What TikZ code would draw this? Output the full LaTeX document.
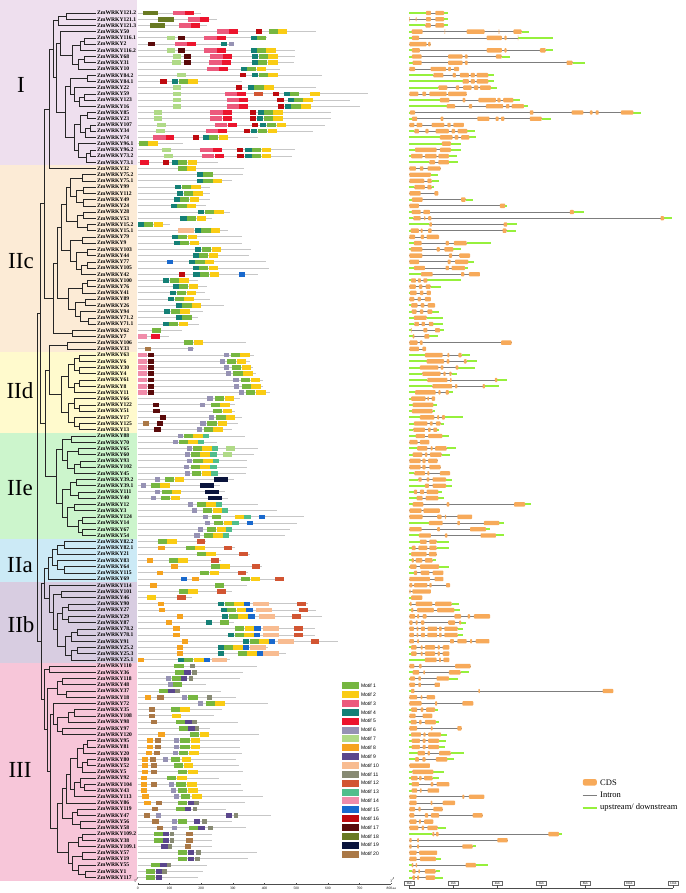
\documentclass[tikz,border=0pt]{standalone}
\usepackage{fontspec}
\setmainfont{Liberation Serif}
\newfontfamily\keyfont{Liberation Sans}
\usepackage{tikz}
\usetikzlibrary{calc,positioning}

% group bands
\definecolor{bandI}{RGB}{238,223,238}
\definecolor{bandIIc}{RGB}{252,235,214}
\definecolor{bandIId}{RGB}{255,250,205}
\definecolor{bandIIe}{RGB}{204,245,204}
\definecolor{bandIIa}{RGB}{204,234,246}
\definecolor{bandIIb}{RGB}{216,205,225}
\definecolor{bandIII}{RGB}{247,198,217}
% motifs
\definecolor{motif1}{RGB}{118,182,64}
\definecolor{motif2}{RGB}{250,204,20}
\definecolor{motif3}{RGB}{236,90,125}
\definecolor{motif4}{RGB}{20,128,118}
\definecolor{motif5}{RGB}{236,20,45}
\definecolor{motif6}{RGB}{150,146,180}
\definecolor{motif7}{RGB}{176,218,135}
\definecolor{motif8}{RGB}{246,163,30}
\definecolor{motif9}{RGB}{90,70,140}
\definecolor{motif10}{RGB}{248,188,145}
\definecolor{motif11}{RGB}{135,138,115}
\definecolor{motif12}{RGB}{210,85,50}
\definecolor{motif13}{RGB}{80,190,140}
\definecolor{motif14}{RGB}{240,140,170}
\definecolor{motif15}{RGB}{25,105,205}
\definecolor{motif16}{RGB}{190,10,15}
\definecolor{motif17}{RGB}{90,10,10}
\definecolor{motif18}{RGB}{105,122,35}
\definecolor{motif19}{RGB}{10,20,60}
\definecolor{motif20}{RGB}{170,120,70}
% gene structure
\definecolor{cdsorange}{RGB}{247,170,90}
\definecolor{utrgreen}{RGB}{150,240,60}
\definecolor{introngray}{RGB}{125,125,125}

\def\motifwidths{{29,30,39,19,28,16,28,20,20,50,14,27,20,28,20,20,20,48,45,20}}
\pgfmathdeclarefunction{rowy}{1}{\pgfmathparse{13+(#1-1)*6.22}}

% internal node of the tree: name, x, two children
\newcommand\clade[4]{%
  \path let \p1=($(#3)!0.5!(#4)$) in coordinate (#1) at (#2pt,\y1);
  \draw[branch] (#1) |- (#3) (#1) |- (#4);
}
% protein row: row, length (aa), motif/start list
\newcommand\mrow[3]{%
  \draw[mline] (137.7,{rowy(#1)}) -- ({137.7+0.317*#2},{rowy(#1)});
  \foreach \m/\s in {#3}{%
    \pgfmathsetmacro\mw{\motifwidths[\m-1]}%
    \fill[fill=motif\m] ({137.7+0.317*\s},{rowy(#1)-2.3}) rectangle ++({0.317*\mw},4.6);}%
}
% gene row: row, end (kb), exon list (kb)
\newcommand\gene[3]{%
  \gdef\gfirst{-1}%
  \foreach \a/\b in {#3}{\ifdim\gfirst pt<0pt \xdef\gfirst{\a}\fi\xdef\glast{\b}}%
  \draw[utr] (409.3,{rowy(#1)}) -- ({409.3+22*\gfirst},{rowy(#1)});
  \draw[intron] ({409.3+22*\gfirst},{rowy(#1)}) -- ({409.3+22*\glast},{rowy(#1)});
  \draw[utr] ({409.3+22*\glast},{rowy(#1)}) -- ({409.3+22*#2},{rowy(#1)});
  \foreach \a/\b in {#3}{\fill[cds] ({409.3+22*\a},{rowy(#1)-2.2}) rectangle ({409.3+22*\b},{rowy(#1)+2.2});}%
}

\begin{document}
\begin{tikzpicture}[x=1pt,y=-1pt,
  branch/.style={draw=black!85, line width=0.55pt},
  gname/.style={anchor=west, inner sep=0pt, font=\bfseries\fontsize{5.6}{6}\selectfont},
  grouplab/.style={inner sep=0pt, font=\fontsize{23}{23}\selectfont},
  mline/.style={draw=black!22, line width=0.9pt},
  utr/.style={draw=utrgreen, line width=2pt},
  intron/.style={draw=introngray, line width=0.7pt},
  cds/.style={fill=cdsorange, rounded corners=0.8pt},
  keybox/.style={minimum width=17pt, minimum height=7pt, inner sep=0pt},
  keytext/.style={inner sep=0pt, font=\keyfont\fontsize{5}{5}\selectfont},
  glegend/.style={anchor=west, inner sep=0pt, font=\fontsize{8.5}{9}\selectfont},
  ticklab/.style={inner sep=0pt, font=\fontsize{3.6}{4}\selectfont},
  kbbox/.style={draw=black!60, line width=0.3pt, inner sep=0.6pt, minimum width=10pt, minimum height=4.4pt, font=\fontsize{3.2}{3.5}\selectfont}
]
\useasboundingbox (0,0) rectangle (685,893);

% coloured bands of the subfamilies
\fill[bandI]   (0,0)     rectangle (137,165.4);
\fill[bandIIc] (0,165.4) rectangle (137,352);
\fill[bandIId] (0,352)   rectangle (137,432.8);
\fill[bandIIe] (0,432.8) rectangle (137,538.6);
\fill[bandIIa] (0,538.6) rectangle (137,582.3);
\fill[bandIIb] (0,582.3) rectangle (137,663.2);
\fill[bandIII] (0,663.2) rectangle (137,880.7);

\node[grouplab] (labI)   at (21,85)  {I};
\node[grouplab] (labIIc) at (21,261) {IIc};
\node[grouplab] (labIId) at (20,391) {IId};
\node[grouplab] (labIIe) at (20,488) {IIe};
\node[grouplab] (labIIa) at (20,565) {IIa};
\node[grouplab] (labIIb) at (21,625) {IIb};
\node[grouplab] (labIII) at (20,770) {III};

% gene names and leaves
\foreach \r/\g in {1/121.2,2/121.1,3/121.3,4/50,5/116.1,6/2,7/116.2,8/68,9/31,10/10,
  11/84.2,12/84.1,13/22,14/59,15/123,16/16,17/85,18/23,19/107,20/34,21/74,22/96.1,23/96.2,
  24/73.2,25/73.1,26/32,27/75.2,28/75.1,29/99,30/112,31/49,32/24,33/28,34/53,35/15.2,
  36/15.1,37/79,38/9,39/103,40/44,41/77,42/105,43/42,44/100,45/76,46/41,47/89,48/26,
  49/94,50/71.2,51/71.1,52/62,53/7,54/106,55/33,56/63,57/6,58/30,59/4,60/61,61/8,62/11,
  63/66,64/122,65/51,66/17,67/125,68/13,69/88,70/70,71/65,72/60,73/93,74/102,75/45,
  76/39.2,77/39.1,78/111,79/40,80/12,81/3,82/124,83/14,84/67,85/54,86/82.2,87/82.1,
  88/21,89/83,90/64,91/115,92/69,93/114,94/101,95/46,96/90,97/27,98/29,99/87,100/78.2,
  101/78.1,102/91,103/25.2,104/25.3,105/25.1,106/110,107/36,108/118,109/48,110/37,
  111/18,112/72,113/35,114/108,115/98,116/97,117/120,118/95,119/81,120/20,121/80,
  122/52,123/5,124/92,125/104,126/43,127/113,128/86,129/119,130/47,131/56,132/58,
  133/109.2,134/38,135/109.1,136/57,137/19,138/55,139/1,140/117}{
  \coordinate (l\r) at (96,{rowy(\r)});
  \node[gname] (n\r) at (97,{rowy(\r)}) {ZmWRKY\g};
}

% tree, group I
\clade{ia}{66}{l1}{l2}
\clade{ib}{58}{ia}{l3}
\clade{ic}{84}{l5}{l6}
\clade{id}{80}{ic}{l7}
\clade{ie}{84}{l8}{l9}
\clade{ig}{78}{ie}{l10}
\clade{ih}{72}{id}{ig}
\clade{ij}{60}{l4}{ih}
\clade{ik}{87}{l11}{l12}
\clade{il}{84}{l14}{l15}
\clade{im}{79}{il}{l16}
\clade{io}{74}{l13}{im}
\clade{ip}{70}{ik}{io}
\clade{iq}{87}{l17}{l18}
\clade{ir}{90}{l19}{l20}
\clade{it}{85}{ir}{l21}
\clade{iu}{80}{iq}{it}
\clade{iv}{90}{l23}{l24}
\clade{iw}{86}{iv}{l25}
\clade{ix}{78}{l22}{iw}
\clade{iy}{74}{iu}{ix}
\clade{iz}{65}{ip}{iy}
\clade{ja}{56}{ij}{iz}
\clade{jb}{53}{ib}{ja}
\clade{jc}{49}{jb}{l26}
% group IIc
\clade{ca}{82}{l27}{l28}
\clade{cb}{83}{l29}{l30}
\clade{cc}{83}{l31}{l32}
\clade{cd}{76}{cb}{cc}
\clade{ce}{70}{ca}{cd}
\clade{cf}{83}{l33}{l34}
\clade{cg}{87}{l35}{l36}
\clade{ch}{77}{cf}{cg}
\clade{ci}{66}{ce}{ch}
\clade{cj}{82}{l37}{l38}
\clade{ck}{87}{l39}{l40}
\clade{cl}{87}{l41}{l42}
\clade{cm}{81}{cl}{l43}
\clade{cn}{76}{ck}{cm}
\clade{co}{70}{cj}{cn}
\clade{cp}{61}{ci}{co}
\clade{cq}{87}{l44}{l45}
\clade{cr}{82}{cq}{l46}
\clade{cs}{85}{l47}{l48}
\clade{ct}{88}{l50}{l51}
\clade{cu}{80}{l49}{ct}
\clade{cv}{75}{cs}{cu}
\clade{cw}{68}{cr}{cv}
\clade{cx}{57}{cp}{cw}
\clade{cy}{72}{l52}{l53}
\clade{cz}{53}{cx}{cy}
\clade{ko}{44}{jc}{cz}
% group IId
\clade{da}{67}{l54}{l55}
\clade{db}{79}{l56}{l57}
\clade{dc}{79}{l58}{l59}
\clade{dd}{74}{db}{dc}
\clade{de}{79}{l60}{l61}
\clade{df}{74}{de}{l62}
\clade{dg}{68}{dd}{df}
\clade{dh}{79}{l64}{l65}
\clade{di}{74}{l63}{dh}
\clade{dj}{79}{l67}{l68}
\clade{dk}{74}{l66}{dj}
\clade{dl}{68}{di}{dk}
\clade{dm}{61}{dg}{dl}
\clade{dn}{49}{da}{dm}
% group IIe
\clade{ea}{71}{l69}{l70}
\clade{eb}{78}{l71}{l72}
\clade{ec}{80}{l73}{l74}
\clade{ed}{74}{ec}{l75}
\clade{ee}{67}{eb}{ed}
\clade{ef}{62}{ea}{ee}
\clade{eg}{76}{l76}{l77}
\clade{eh}{78}{l78}{l79}
\clade{ei}{70}{eg}{eh}
\clade{ej}{74}{l80}{l81}
\clade{ek}{82}{l82}{l83}
\clade{el}{82}{l84}{l85}
\clade{em}{78}{ek}{el}
\clade{en}{67}{ej}{em}
\clade{eo}{62}{ei}{en}
\clade{ep}{56}{ef}{eo}
\clade{kp}{45}{dn}{ep}
\clade{kq}{40}{ko}{kp}
% group IIa
\clade{aa}{64}{l86}{l87}
\clade{ab}{57}{aa}{l88}
\clade{ac}{64}{l90}{l91}
\clade{ad}{57}{l89}{ac}
\clade{ae}{52}{ab}{ad}
\clade{af}{48}{ae}{l92}
% group IIb
\clade{ba}{61}{l94}{l95}
\clade{bb}{68}{l96}{l97}
\clade{bc}{68}{l98}{l99}
\clade{bd}{62}{bb}{bc}
\clade{be}{77}{l100}{l101}
\clade{bf}{71}{be}{l102}
\clade{bg}{77}{l103}{l104}
\clade{bh}{71}{bg}{l105}
\clade{bi}{65}{bf}{bh}
\clade{bj}{57}{bd}{bi}
\clade{bk}{53}{ba}{bj}
\clade{bl}{49}{l93}{bk}
\clade{kr}{44}{af}{bl}
% group III
\clade{ha}{49}{l106}{l107}
\clade{hb}{62}{l108}{l109}
\clade{hc}{66}{l110}{l111}
\clade{hd}{57}{hb}{hc}
\clade{he}{74}{l113}{l114}
\clade{hf}{68}{he}{l115}
\clade{hg}{62}{l116}{l117}
\clade{hh}{57}{hf}{hg}
\clade{hi}{53}{l112}{hh}
\clade{hj}{87}{l118}{l119}
\clade{hk}{83}{hj}{l120}
\clade{hl}{87}{l121}{l122}
\clade{hm}{82}{hl}{l123}
\clade{hn}{77}{hk}{hm}
\clade{ho}{84}{l125}{l126}
\clade{hp}{80}{l124}{ho}
\clade{hq}{74}{hp}{l127}
\clade{hr}{70}{hn}{hq}
\clade{hs}{66}{hr}{l128}
\clade{ht}{77}{l129}{l130}
\clade{hu}{80}{l131}{l132}
\clade{hv}{72}{ht}{hu}
\clade{hw}{62}{hs}{hv}
\clade{hx}{82}{l133}{l134}
\clade{hy}{78}{hx}{l135}
\clade{hz}{82}{l136}{l137}
\clade{ka}{85}{l139}{l140}
\clade{kb}{78}{l138}{ka}
\clade{kc}{72}{hz}{kb}
\clade{kd}{68}{hy}{kc}
\clade{ke}{57}{hw}{kd}
\clade{kf}{50}{hi}{ke}
\clade{kg}{47}{hd}{kf}
\clade{kh}{44}{ha}{kg}
\clade{ks}{41}{kr}{kh}
\clade{kt}{37}{kq}{ks}

% conserved motifs
\mrow{1}{200}{18/17,3/110,5/149}
\mrow{2}{249}{18/65,3/158,5/196}
\mrow{3}{220}{18/38,3/129,5/169}
\mrow{4}{564}{3/249,5/288,16/372,1/413,2/442}
\mrow{5}{408}{7/91,17/128,3/210,5/249,4/356,1/376}
\mrow{6}{302}{17/34,3/118,5/155,4/263,6/288}
\mrow{7}{496}{7/91,17/128,3/210,5/249,4/356,1/376,2/406}
\mrow{8}{496}{7/110,17/147,3/229,5/268,4/362,1/382,2/412}
\mrow{9}{494}{7/109,17/147,3/226,5/265,4/360,1/380,2/411}
\mrow{10}{448}{3/218,5/257,4/326,1/345,2/375}
\mrow{11}{580}{7/124,16/323,4/362,1/382,2/412}
\mrow{12}{328}{16/71,4/109,1/129,2/160}
\mrow{13}{564}{7/110,16/310,4/349,1/368,2/399}
\mrow{14}{727}{7/110,3/275,5/314,12/368,16/426,4/460,1/480,2/544}
\mrow{15}{669}{7/110,3/281,5/319,16/440,4/473,1/492,2/523}
\mrow{16}{700}{7/110,3/281,5/319,16/441,4/466,1/485,2/516}
\mrow{17}{609}{7/50,3/229,5/268,16/354,4/378,1/398,2/428}
\mrow{18}{609}{7/50,3/228,5/268,16/353,4/377,1/397,2/427}
\mrow{19}{592}{7/62,3/244,5/284,16/360,4/386,1/407,2/438}
\mrow{20}{553}{7/58,3/215,5/254,16/335,4/358,1/379,2/410}
\mrow{21}{378}{3/49,5/88,16/173,4/205,1/225,2/255}
\mrow{22}{142}{1/4,2/34}
\mrow{23}{496}{7/76,3/198,5/238,16/313,4/340,1/360,2/391}
\mrow{24}{487}{7/82,3/203,5/243,16/314,4/340,1/360,2/391}
\mrow{25}{252}{5/8,16/80,4/107,1/127,2/158}
\mrow{26}{336}{1/126,2/155}
\mrow{27}{333}{4/187,1/207}
\mrow{28}{296}{4/187,1/207,2/237}
\mrow{29}{228}{4/118,1/139,2/169}
\mrow{30}{228}{4/124,1/145,2/175}
\mrow{31}{228}{4/113,1/134,2/164}
\mrow{32}{217}{4/105,1/125,2/155}
\mrow{33}{291}{4/191,1/211,2/241}
\mrow{34}{235}{4/135,1/155,2/186}
\mrow{35}{102}{4/0,1/20,2/50}
\mrow{36}{284}{10/128,4/181,1/201,2/231}
\mrow{37}{330}{4/107,1/127,2/158}
\mrow{38}{330}{4/113,1/133,2/164}
\mrow{39}{357}{4/182,1/203,2/233}
\mrow{40}{351}{4/173,1/193,2/224}
\mrow{41}{406}{15/92,4/162,1/182,2/212}
\mrow{42}{413}{4/173,1/193,2/224}
\mrow{43}{380}{16/129,4/176,1/196,2/227,15/319}
\mrow{44}{191}{4/81,1/101,2/131}
\mrow{45}{220}{4/110,1/130,2/161}
\mrow{46}{212}{4/103,1/124,2/154}
\mrow{47}{228}{4/97,1/118,2/147}
\mrow{48}{272}{4/121,1/141,2/170}
\mrow{49}{205}{4/84,1/105,2/134}
\mrow{50}{191}{4/120,1/141}
\mrow{51}{194}{4/79,1/99,2/129}
\mrow{52}{139}{1/45}
\mrow{53}{99}{14/2,5/42}
\mrow{54}{341}{1/147,2/177}
\mrow{55}{179}{20/23,6/158}
\mrow{56}{366}{14/0,17/32,6/271,1/293,2/323}
\mrow{57}{354}{14/0,17/32,6/259,1/282,2/312}
\mrow{58}{364}{14/0,17/32,6/273,1/296,2/328}
\mrow{59}{372}{14/0,17/32,6/279,1/302,2/333}
\mrow{60}{394}{14/0,17/32,6/302,1/325,2/357}
\mrow{61}{396}{14/0,17/32,6/304,1/328,2/358}
\mrow{62}{417}{14/0,17/32,6/319,1/342,2/374}
\mrow{63}{322}{6/220,1/244,2/275}
\mrow{64}{307}{17/47,6/196,1/231,2/260}
\mrow{65}{307}{17/49,1/237,2/268}
\mrow{66}{328}{17/70,6/225,1/248,2/278}
\mrow{67}{315}{20/17,17/61,6/198,1/220,2/252}
\mrow{68}{296}{17/52,6/186,1/208,2/239}
\mrow{69}{338}{6/128,1/146,2/176,13/206}
\mrow{70}{249}{6/112,1/129,2/160,13/190}
\mrow{71}{381}{6/155,1/173,2/204,13/234,7/278}
\mrow{72}{368}{6/149,1/168,2/198,13/229,7/268}
\mrow{73}{345}{6/155,1/176,2/207,13/237}
\mrow{74}{346}{6/146,1/168,2/198,13/229}
\mrow{75}{343}{6/149,1/170,2/202,13/232}
\mrow{76}{305}{6/55,1/86,2/117,19/240}
\mrow{77}{259}{6/10,1/41,2/71,19/195}
\mrow{78}{275}{6/55,1/78,2/108,19/211}
\mrow{79}{286}{6/43,1/74,2/104,19/222}
\mrow{80}{378}{6/158,1/187,2/217,13/247}
\mrow{81}{438}{6/171,1/206,2/236,13/266}
\mrow{82}{525}{6/205,1/233,2/307,13/336,15/382}
\mrow{83}{504}{6/211,1/240,2/271,13/299,15/344}
\mrow{84}{481}{6/189,1/218,2/249,13/278}
\mrow{85}{464}{6/179,1/208,2/238,13/268}
\mrow{86}{217}{1/63,2/93,12/186}
\mrow{87}{307}{8/65,1/151,2/181,12/272}
\mrow{88}{354}{1/187,2/217,12/320}
\mrow{89}{263}{8/29,1/98,2/128,12/230}
\mrow{90}{393}{8/106,1/230,2/260,12/360}
\mrow{91}{349}{8/61,1/196,2/227,12/315}
\mrow{92}{462}{15/137,8/172,1/326,2/356,12/433}
\mrow{93}{345}{8/40,1/244}
\mrow{94}{296}{1/130,2/160,12/251}
\mrow{95}{172}{2/28,12/125}
\mrow{96}{538}{8/64,4/254,1/274,2/305,15/334,10/364,12/503}
\mrow{97}{564}{8/67,4/263,1/282,2/313,15/343,10/373,12/509}
\mrow{98}{580}{8/123,4/267,1/287,2/317,15/349,10/383,12/487}
\mrow{99}{305}{8/88,4/214,1/260}
\mrow{100}{559}{8/112,1/307,2/338,15/368,10/396,12/494}
\mrow{101}{559}{8/112,4/286,1/306,2/336,15/366,10/395,12/494}
\mrow{102}{632}{8/139,4/333,1/354,2/384,15/414,10/443,12/546}
\mrow{103}{410}{8/124,4/252,1/272,2/302,15/332,10/354}
\mrow{104}{469}{8/124,4/252,1/315,2/345,15/376,10/396}
\mrow{105}{291}{8/0,4/128,1/147,2/179,15/208,10/233}
\mrow{106}{375}{1/116,11/166}
\mrow{107}{333}{1/118,9/147,11/172}
\mrow{108}{323}{6/88,1/108,9/137,11/162}
\mrow{109}{215}{6/97,1/112}
\mrow{110}{262}{1/67,9/97,11/118}
\mrow{111}{311}{8/23,20/62,6/141,1/160,11/220}
\mrow{112}{410}{6/189,1/214,2/245}
\mrow{113}{267}{20/36,1/104,2/134}
\mrow{114}{241}{20/36,2/107}
\mrow{115}{317}{20/42,1/120,9/150,11/172}
\mrow{116}{228}{1/130,9/160,11/180}
\mrow{117}{382}{8/65,1/165,2/196}
\mrow{118}{323}{8/28,20/53,6/114,1/135,2/168}
\mrow{119}{323}{8/28,20/53,6/114,1/135,2/168}
\mrow{120}{330}{8/26,20/50,6/110,1/130,2/163}
\mrow{121}{309}{8/13,20/38,6/80,1/104,2/139}
\mrow{122}{319}{8/13,20/42,1/114,2/146}
\mrow{123}{333}{8/13,20/42,1/127,2/160}
\mrow{124}{256}{8/10,1/91,2/124}
\mrow{125}{326}{8/10,20/42,6/100,1/122,2/156}
\mrow{126}{333}{8/10,6/105,1/126,2/160}
\mrow{127}{396}{8/15,6/115,1/137,2/172}
\mrow{128}{338}{8/21,20/58,1/128,9/160,11/179}
\mrow{129}{280}{20/44,1/120,9/149,11/174}
\mrow{130}{422}{20/19,6/57,9/279,11/303}
\mrow{131}{298}{20/46,6/109,1/128,9/178,11/204}
\mrow{132}{341}{20/61,6/107,1/162,9/191,11/223}
\mrow{133}{233}{1/50,9/80,11/101,20/153}
\mrow{134}{233}{1/50,9/80,11/101,20/153}
\mrow{135}{233}{9/74,11/95,20/149}
\mrow{136}{375}{1/128,9/158,11/185}
\mrow{137}{349}{1/128,9/158,11/182}
\mrow{138}{220}{1/42,9/71,11/92}
\mrow{139}{207}{1/27,9/57,11/78}
\mrow{140}{191}{1/27,9/57}

% protein scale
\draw[black!70, line width=0.4pt] (137.7,884) -- (391.3,884);
\foreach \v in {0,100,...,700}{
  \draw[black!70, line width=0.3pt] ({137.7+0.317*\v},884) -- ++(0,-1.5);
  \node[ticklab] (aa\v) at ({137.7+0.317*\v},888.6) {\v};
}
\draw[black!70, line width=0.3pt] (391.3,884) -- ++(0,-1.5);
\node[ticklab] (aa800) at (391.3,888.6) {800\,aa};
\node[ticklab] (fiveend) at (136.5,880.5) {5$'$};
\node[ticklab] (threeend) at (392.5,880.5) {3$'$};

% motif key
\foreach \i in {1,...,20}{
  \node[keybox, fill=motif\i] (key\i) at (350.6,{685.7+(\i-1)*8.86}) {};
  \node[keytext, anchor=west, right=1.5pt of key\i] (keylab\i) {Motif \i};
}

% gene structures
\gene{1}{1.77}{0.76/0.98,1.18/1.58}
\gene{2}{1.77}{0/0.03,0.29/0.33,0.76/0.98,1.18/1.58}
\gene{3}{1.77}{0.73/0.98,1.18/1.58}
\gene{4}{5.45}{0.11/0.61,1.6/1.63,2.61/3.42,4.06/4.09,4.73/5.11}
\gene{5}{6.55}{0.12/0.45,3.52/4.21,4.32/4.42,4.93/4.96}
\gene{6}{0.97}{0/0.79,0.86/0.97}
\gene{7}{6.55}{0.12/0.48,3.52/4.21,4.32/4.42,5.94/6.2}
\gene{8}{4.58}{0.12/0.56,1.77/2.42,2.53/2.65,3.94/4.2}
\gene{9}{7.98}{0.15/0.56,1.77/2.42,2.53/2.65,7.15/7.42}
\gene{10}{2.26}{0/0.26,0.97/1.67,1.77/1.89,2.03/2.26}
\gene{11}{3.85}{1.09/1.55,1.97/2.12,2.3/2.71,2.79/2.98,3.06/3.59}
\gene{12}{3.85}{2.42/2.71,2.79/2.98,3.06/3.59}
\gene{13}{3.97}{1.32/1.73,2.12/2.27,2.45/2.83,2.94/3.14,3.21/3.71}
\gene{14}{2.61}{0/0.41,0.59/0.76,0.91/1.7,1.77/2.61}
\gene{15}{5.03}{1.39/1.82,2.42/2.55,3.14/3.94,4/4.15,4.27/4.73}
\gene{16}{5.41}{1.7/2.08,2.71/2.86,3.48/4.27,4.39/4.55,4.65/5.21}
\gene{17}{10.52}{0.03/0.26,5.48/5.64,7.38/7.91,8.21/8.33,8.47/8.61,9.62/10.18}
\gene{18}{6.42}{0.12/0.36,1.42/1.55,3.09/3.64,3.92/4.06,4.17/4.32,5.48/6.02}
\gene{19}{2.48}{0/0.23,0.33/0.59,1.02/1.59,1.73/1.88,2/2.48}
\gene{20}{2.98}{0.23/0.44,0.73/0.88,1.2/1.8,1.92/2.08,2.2/2.64}
\gene{21}{3.03}{1.39/1.97,2.06/2.23,2.35/2.73}
\gene{22}{2.35}{1.48/1.89}
\gene{23}{2.35}{0.26/1.24,1.39/1.89}
\gene{24}{2.18}{0.08/0.61,0.71/1.24,1.32/1.8}
\gene{25}{2.2}{0.91/1.17,1.32/1.8}
\gene{26}{1.42}{0/0.3,0.48/0.64,0.83/1.42}
\gene{27}{1.32}{0/0.98}
\gene{28}{1.33}{0/0.68,0.82/1.02}
\gene{29}{1.14}{0.23/0.71,0.82/1.02}
\gene{30}{1.32}{0/0.52,1.14/1.32}
\gene{31}{2.88}{0.12/0.61,2.35/2.56}
\gene{32}{4.45}{0/0.44,4.12/4.36}
\gene{33}{7.95}{0.11/0.52,0.64/0.94,7.3/7.48}
\gene{34}{11.92}{0.18/0.52,0.67/0.73,0.86/1.0,11.42/11.58}
\gene{35}{4.88}{0.91/1.03,4.29/4.45}
\gene{36}{4.85}{0.06/0.44,0.52/0.61,0.85/1.02,4.24/4.42}
\gene{37}{1.35}{0/0.26,0.52/0.67,0.79/1.35}
\gene{38}{3.7}{0.21/0.56,1.65/1.8,2.03/2.61}
\gene{39}{2.35}{0.06/0.59,1.24/1.39,1.59/2}
\gene{40}{2.76}{0/0.59,1.8/1.95,2.27/2.76}
\gene{41}{2.94}{0/0.45,1.74/1.88,2.08/2.68}
\gene{42}{2.68}{0.21/0.71,1.65/1.8,1.92/2.53}
\gene{43}{3.21}{0.53/1.06,2.35/2.5,2.71/3.21}
\gene{44}{2.35}{0.08/0.3,0.39/0.53,0.64/0.82}
\gene{45}{1.44}{0/0.3,0.44/0.59,0.74/0.97}
\gene{46}{0.98}{0.03/0.33,0.48/0.64,0.79/0.98}
\gene{47}{0.98}{0/0.23,0.38/0.53,0.71/0.98}
\gene{48}{1.17}{0.08/0.38,0.52/0.68,0.83/1.17}
\gene{49}{1.36}{0.11/0.33,0.48/0.64,0.82/1.05}
\gene{50}{1.52}{0.21/0.79}
\gene{51}{1.52}{0.23/0.44,0.56/0.71,0.89/1.09}
\gene{52}{1.58}{0.08/0.1,0.64/0.82,1.17/1.39}
\gene{53}{1.32}{0.15/0.23,0.68/0.91}
\gene{54}{4.65}{0/0.38,0.48/0.61,4.17/4.65}
\gene{55}{0.76}{0/0.44,0.59/0.76}
\gene{56}{2.76}{0.71/1.52,1.73/1.82,2.23/2.38}
\gene{57}{3.09}{0.79/1.58,1.7/1.82,2.48/2.61}
\gene{58}{3.0}{0.48/1.32,1.42/1.55,2.11/2.23}
\gene{59}{2.18}{0.59/1.42,1.55/1.65,1.82/1.92}
\gene{60}{4.42}{0.82/1.73,1.85/1.92,3.89/4.0}
\gene{61}{4.09}{1.05/1.95,2.08/2.18,3.33/3.44}
\gene{62}{2.0}{0.26/1.2,1.32/1.42,1.65/1.8}
\gene{63}{1.17}{0.08/0.74,0.82/0.89,1.02/1.17}
\gene{64}{1.24}{0.15/1.09}
\gene{65}{1.17}{0.12/1.06}
\gene{66}{2.45}{0.48/1.14,1.27/1.36,1.48/1.62}
\gene{67}{1.59}{0.21/0.82,0.94/1.06,1.21/1.42}
\gene{68}{1.35}{0.18/0.71,0.85/0.97,1.09/1.27}
\gene{69}{1.82}{0.29/0.71,0.86/1.5}
\gene{70}{0.91}{0/0.38,0.48/0.91}
\gene{71}{2.12}{0.36/0.82,0.97/1.06,1.17/1.7}
\gene{72}{1.85}{0.15/0.59,0.71/0.82,0.94/1.47}
\gene{73}{1.29}{0/0.52,0.59/0.74,0.86/1.29}
\gene{74}{1.42}{0/0.52,0.59/0.74,0.91/1.42}
\gene{75}{1.85}{0.23/0.71,0.82/0.91,1.39/1.85}
\gene{76}{1.92}{0.41/0.56,0.79/0.91,1.06/1.67}
\gene{77}{1.92}{0.71/0.89,1.06/1.67}
\gene{78}{1.5}{0.21/0.36,0.48/0.67,0.79/1.32}
\gene{79}{1.58}{0.33/0.61,0.74/1.32}
\gene{80}{5.52}{0.15/0.64,1.7/1.82,4.76/5.26}
\gene{81}{1.39}{0/0.56,0.64/1.39}
\gene{82}{2.86}{0/0.61,1.27/1.47,1.62/1.67,2.18/2.86}
\gene{83}{4.32}{0.89/1.52,2.18/2.3,3.39/4.09}
\gene{84}{3.67}{0/0.56,1.27/1.39,2.76/3.48}
\gene{85}{4.32}{0.44/0.98,1.62/1.73,3.24/3.94}
\gene{86}{1.82}{0.48/0.79,0.91/1.24}
\gene{87}{1.82}{0.11/0.29,0.41/0.82,0.91/1.24}
\gene{88}{1.24}{0.08/0.79,0.89/1.24}
\gene{89}{1.21}{0.11/0.21,0.29/0.59,0.71/1.06}
\gene{90}{1.82}{0.03/0.33,0.48/1.36}
\gene{91}{1.55}{0.21/0.36,0.52/0.91,1.06/1.55}
\gene{92}{1.55}{0/0.94,1.15/1.55}
\gene{93}{1.85}{0/0.14,0.21/0.82,0.91/1.02,1.67/1.85}
\gene{94}{0.98}{0/0.06,0.14/0.98}
\gene{95}{0.59}{0.08/0.59}
\gene{96}{2.26}{0.03/0.11,0.29/1.05,1.17/1.92}
\gene{97}{2.3}{0.08/0.18,0.36/1.12,1.27/2.05}
\gene{98}{3.67}{0/0.26,0.36/0.45,0.61/0.79,2.05/2.35,2.65/2.76,2.94/3.67}
\gene{99}{2.56}{0/0.15,0.29/0.38,0.53/0.68,1.77/2.08,2.27/2.35}
\gene{100}{2.45}{0/0.21,0.33/0.41,0.53/0.71,0.83/1.27,1.35/1.47,1.59/2.2}
\gene{101}{2.42}{0/0.21,0.33/0.41,0.53/0.71,0.82/1.27,1.35/1.47,1.59/2.2}
\gene{102}{3.64}{0/0.21,0.36/0.44,1.85/2.03,2.18/2.61,2.76/2.86,3.02/3.64}
\gene{103}{1.82}{0.08/0.33,0.52/0.61,0.71/1.17,1.29/1.39,1.52/1.82}
\gene{104}{1.82}{0.08/0.33,0.52/0.61,0.71/1.17,1.29/1.39,1.52/1.82}
\gene{105}{1.82}{0.71/1.24,1.35/1.44,1.55/1.82}
\gene{106}{2.79}{0/0.23,0.45/0.56,2.08/2.79}
\gene{107}{2.73}{0.15/0.45,0.64/0.71,1.8/2.33}
\gene{108}{2.23}{0.03/0.26,0.41/0.53,1.24/1.8}
\gene{109}{1.39}{0/0.26,0.41/0.53,1.15/1.39}
\gene{110}{9.27}{0.08/0.23,3.14/3.21,8.79/9.27}
\gene{111}{1.17}{0/0.36,0.52/0.59,0.79/1.17}
\gene{112}{2.91}{0/0.56,1.17/1.27,2.41/2.91}
\gene{113}{1.32}{0.08/0.36,0.52/0.64,0.76/1.17}
\gene{114}{1.05}{0/0.29,0.61/1.05}
\gene{115}{1.36}{0.06/0.33,0.45/0.56,0.71/1.21}
\gene{116}{2.38}{0/0.36,0.98/1.06,2.18/2.38}
\gene{117}{1.7}{0.08/0.53,0.64/0.74,0.86/1.44}
\gene{118}{1.67}{0.11/0.48,0.61/0.74,0.86/1.35}
\gene{119}{1.62}{0.11/0.48,0.61/0.74,0.86/1.35}
\gene{120}{2.48}{0.38/0.71,0.83/0.94,1.35/1.88}
\gene{121}{2.03}{0.26/0.44,0.59/0.74,1.21/1.73}
\gene{122}{0.94}{0/0.94}
\gene{123}{1.58}{0.14/1.09}
\gene{124}{1.36}{0.08/0.38,0.45/0.56,0.67/1.06}
\gene{125}{1.82}{0.11/0.44,0.97/1.09,1.24/1.82}
\gene{126}{1.36}{0.11/0.36,0.48/0.56,0.83/1.36}
\gene{127}{3.41}{0/0.33,2.41/2.5,2.71/3.41}
\gene{128}{2.08}{0/0.33,0.97/1.05,1.52/2.08}
\gene{129}{1.52}{0/0.26,0.41/0.52,1.09/1.52}
\gene{130}{3.33}{0/0.23,0.71/0.86,0.98/1.36,2.88/3.33}
\gene{131}{1.09}{0/0.33,0.44/0.53,0.67/1.09}
\gene{132}{1.65}{0/0.41,0.56/0.67,0.82/1.29}
\gene{133}{6.92}{1.05/1.14,1.21/1.33,6.32/6.8}
\gene{134}{4.47}{0/0.11,0.36/0.44,4.0/4.47}
\gene{135}{3.03}{0/0.11,0.36/0.44,2.41/2.88}
\gene{136}{1.27}{0/0.33,0.45/1.27}
\gene{137}{1.44}{0/0.33,0.48/1.21}
\gene{138}{3.59}{0.11/0.18,0.29/0.36,2.56/3.03}
\gene{139}{1.39}{0.14/0.29,0.41/0.48,0.71/1.2}
\gene{140}{1.52}{0.14/0.26,0.36/0.45,0.74/1.17}

% gene scale
\draw[black!70, line width=0.4pt] (409.3,888.3) -- (673.3,888.3);
\foreach \k in {0,2,...,12}{
  \node[kbbox] (kb\k) at ({409.3+22*\k},883) {\k kb};
  \draw[black!70, line width=0.3pt] (kb\k.south) -- ({409.3+22*\k},888.3);
}

% gene key
\node[minimum width=14pt, minimum height=6.5pt, inner sep=0pt, fill=cdsorange, rounded corners=2pt] (cdskey) at (589.8,782.3) {};
\node[glegend] (cdslab) at (600,782.3) {CDS};
\coordinate (intA) at (582.5,795);
\coordinate (intB) at (597,795);
\draw[intron] (intA) -- (intB);
\node[glegend] (intlab) at (600,795) {Intron};
\coordinate (utrA) at (582.5,807.7);
\coordinate (utrB) at (597,807.7);
\draw[utr] (utrA) -- (utrB);
\node[glegend] (utrlab) at (600,807.7) {upstream/ downstream};
\end{tikzpicture}
\end{document}
